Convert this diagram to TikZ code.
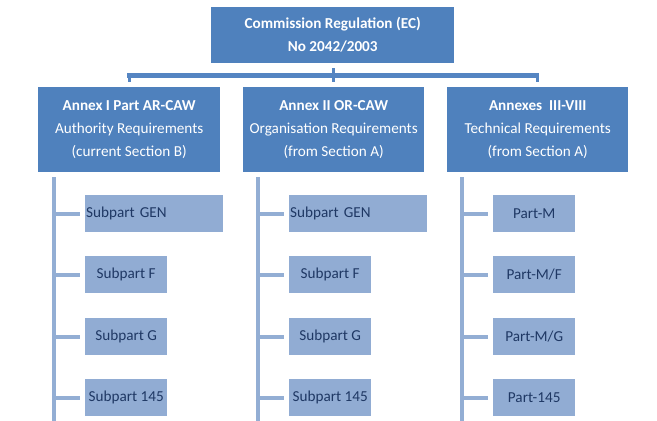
\documentclass[tikz,border=0pt]{standalone}
\usepackage{fontspec}
\setmainfont{Carlito}
\definecolor{hdr}{HTML}{4F81BD}
\definecolor{sub}{HTML}{91ACD3}
\definecolor{subtxt}{HTML}{1F3864}
\definecolor{bar}{HTML}{5585C2}
\definecolor{vline}{HTML}{93AED4}
\tikzset{
  x=1pt,y=-1pt,
  hdrbox/.style={fill=hdr,draw=none,anchor=north west,inner sep=0pt,align=center,
     text=white,font=\fontsize{15.2}{23}\selectfont\bfseries},
  lvbox/.style={hdrbox},
  subbox/.style={fill=sub,draw=none,anchor=north west,inner sep=0pt,text=subtxt,
     font=\fontsize{15.2}{17}\selectfont,minimum height=37pt},
  barline/.style={draw=bar,line width=4.5pt},
  vl/.style={draw=vline,line width=4.5pt},
  stub/.style={draw=vline,line width=4pt},
}
\begin{document}
\begin{tikzpicture}
\useasboundingbox (0,0) rectangle (657,421);
% top
\node[hdrbox,minimum width=243pt,minimum height=56pt] (top) at (211,7)
  {Commission Regulation (EC)\\No 2042/2003};
% level 2
\node[lvbox,minimum width=182pt,minimum height=85pt] (a1) at (38,87)
  {Annex I Part AR-CAW\\\mdseries Authority Requirements\\\mdseries (current Section B)};
\node[lvbox,minimum width=181pt,minimum height=85pt] (a2) at (243,87)
  {Annex II OR-CAW\\\mdseries Organisation Requirements\\\mdseries (from Section A)};
\node[lvbox,minimum width=181pt,minimum height=85pt] (a3) at (447,87)
  {Annexes\ \ III-VIII\\\mdseries Technical Requirements\\\mdseries (from Section A)};
% bar
\coordinate (bl) at (127,75.5);
\coordinate (br) at (539,75.5);
\coordinate (bm) at (333,75.5);
\draw[barline] (bl) -- (br);
\draw[barline,line width=3pt] (129,73.5) -- (129,82);
\draw[barline,line width=3pt] (537,73.5) -- (537,82);
\draw[barline,line width=3pt] (top.south -| bm) ++(0,5) -- (333,82);
% column 1
\node[subbox,minimum width=138pt,text width=136pt,align=left,inner xsep=1pt] (g1) at (85,195) {Subpart GEN};
\node[subbox,minimum width=82pt,align=center] (f1) at (85,256) {Subpart F};
\node[subbox,minimum width=82pt,align=center] (s1) at (85,318) {Subpart G};
\node[subbox,minimum width=82pt,align=center] (h1) at (85,379) {Subpart 145};
% column 2
\node[subbox,minimum width=138pt,text width=136pt,align=left,inner xsep=1pt] (g2) at (289,195) {Subpart GEN};
\node[subbox,minimum width=82pt,align=center] (f2) at (289,256) {Subpart F};
\node[subbox,minimum width=82pt,align=center] (s2) at (289,318) {Subpart G};
\node[subbox,minimum width=82pt,align=center] (h2) at (289,379) {Subpart 145};
% column 3
\node[subbox,minimum width=82pt,align=center] (g3) at (493,195) {Part-M};
\node[subbox,minimum width=82pt,align=center] (f3) at (493,256) {Part-M/F};
\node[subbox,minimum width=82pt,align=center] (s3) at (493,318) {Part-M/G};
\node[subbox,minimum width=82pt,align=center] (h3) at (493,379) {Part-145};
% vertical lines
\coordinate (v1t) at (54,177); \coordinate (v1b) at (54,421);
\coordinate (v2t) at (258,177); \coordinate (v2b) at (258,421);
\coordinate (v3t) at (462,177); \coordinate (v3b) at (462,421);
\draw[vl] (v1t) -- (v1b);
\draw[vl] (v2t) -- (v2b);
\draw[vl] (v3t) -- (v3b);
\foreach \n in {g1,f1,s1,h1}{\draw[stub] (v1t |- \n.west) -- ([xshift=-5pt]\n.west);}
\foreach \n in {g2,f2,s2,h2}{\draw[stub] (v2t |- \n.west) -- ([xshift=-5pt]\n.west);}
\foreach \n in {g3,f3,s3,h3}{\draw[stub] (v3t |- \n.west) -- ([xshift=-5pt]\n.west);}
\end{tikzpicture}
\end{document}
